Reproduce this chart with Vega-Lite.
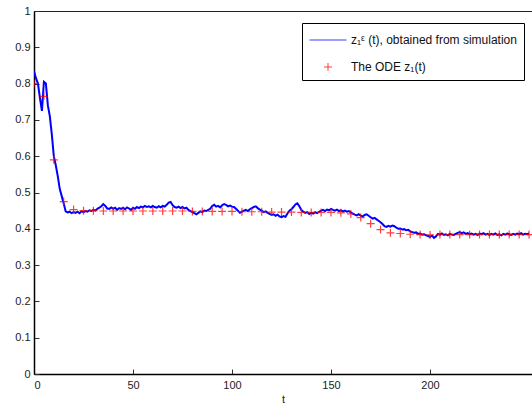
{
  "$schema": "https://vega.github.io/schema/vega-lite/v6.json",
  "width": 498,
  "height": 363,
  "autosize": "none",
  "padding": {"left": 34, "top": 11, "right": 0, "bottom": 35},
  "background": "white",
  "config": {
    "view": {"stroke": "#222", "strokeWidth": 1},
    "font": "Liberation Sans",
    "axis": {"labelFont": "Liberation Sans", "titleFont": "Liberation Sans", "labelColor": "#222", "titleColor": "#222", "labelFontSize": 11, "titleFontSize": 11, "titleFontWeight": "normal", "grid": false, "domainColor": "black", "tickColor": "#333", "labelOverlap": false}
  },
  "datasets": {
    "sim": [
      {"t":0,"z":0.835},{"t":1,"z":0.815},{"t":2,"z":0.8},{"t":3,"z":0.76},{"t":4,"z":0.725},{"t":5,"z":0.805},{"t":6,"z":0.8},{"t":7,"z":0.74},{"t":8,"z":0.71},{"t":9,"z":0.66},
      {"t":10,"z":0.6},{"t":11,"z":0.575},{"t":12,"z":0.545},{"t":13,"z":0.51},{"t":14,"z":0.49},{"t":15,"z":0.47},{"t":16,"z":0.448},{"t":17,"z":0.445},{"t":18,"z":0.447},{"t":19,"z":0.443},
      {"t":20,"z":0.446},{"t":21,"z":0.444},{"t":22,"z":0.447},{"t":23,"z":0.443},{"t":24,"z":0.448},{"t":25,"z":0.446},{"t":26,"z":0.449},{"t":27,"z":0.447},{"t":28,"z":0.451},{"t":29,"z":0.449},
      {"t":30,"z":0.452},{"t":31,"z":0.45},{"t":32,"z":0.455},{"t":33,"z":0.458},{"t":34,"z":0.462},{"t":35,"z":0.468},{"t":36,"z":0.463},{"t":37,"z":0.456},{"t":38,"z":0.455},{"t":39,"z":0.459},
      {"t":40,"z":0.455},{"t":41,"z":0.458},{"t":42,"z":0.452},{"t":43,"z":0.457},{"t":44,"z":0.455},{"t":45,"z":0.458},{"t":46,"z":0.454},{"t":47,"z":0.459},{"t":48,"z":0.456},{"t":49,"z":0.452},
      {"t":50,"z":0.458},{"t":51,"z":0.455},{"t":52,"z":0.46},{"t":53,"z":0.457},{"t":54,"z":0.461},{"t":55,"z":0.459},{"t":56,"z":0.463},{"t":57,"z":0.46},{"t":58,"z":0.462},{"t":59,"z":0.459},
      {"t":60,"z":0.463},{"t":61,"z":0.46},{"t":62,"z":0.458},{"t":63,"z":0.462},{"t":64,"z":0.459},{"t":65,"z":0.463},{"t":66,"z":0.461},{"t":67,"z":0.466},{"t":68,"z":0.472},{"t":69,"z":0.474},
      {"t":70,"z":0.465},{"t":71,"z":0.46},{"t":72,"z":0.458},{"t":73,"z":0.461},{"t":74,"z":0.457},{"t":75,"z":0.46},{"t":76,"z":0.456},{"t":77,"z":0.458},{"t":78,"z":0.452},{"t":79,"z":0.449},
      {"t":80,"z":0.446},{"t":81,"z":0.443},{"t":82,"z":0.44},{"t":83,"z":0.444},{"t":84,"z":0.448},{"t":85,"z":0.446},{"t":86,"z":0.45},{"t":87,"z":0.449},{"t":88,"z":0.452},{"t":89,"z":0.455},
      {"t":90,"z":0.463},{"t":91,"z":0.466},{"t":92,"z":0.461},{"t":93,"z":0.463},{"t":94,"z":0.459},{"t":95,"z":0.465},{"t":96,"z":0.468},{"t":97,"z":0.466},{"t":98,"z":0.462},{"t":99,"z":0.464},
      {"t":100,"z":0.461},{"t":101,"z":0.46},{"t":102,"z":0.455},{"t":103,"z":0.45},{"t":104,"z":0.444},{"t":105,"z":0.447},{"t":106,"z":0.45},{"t":107,"z":0.452},{"t":108,"z":0.449},{"t":109,"z":0.454},
      {"t":110,"z":0.457},{"t":111,"z":0.46},{"t":112,"z":0.462},{"t":113,"z":0.457},{"t":114,"z":0.453},{"t":115,"z":0.45},{"t":116,"z":0.446},{"t":117,"z":0.448},{"t":118,"z":0.444},{"t":119,"z":0.441},
      {"t":120,"z":0.438},{"t":121,"z":0.44},{"t":122,"z":0.436},{"t":123,"z":0.439},{"t":124,"z":0.434},{"t":125,"z":0.432},{"t":126,"z":0.435},{"t":127,"z":0.433},{"t":128,"z":0.442},{"t":129,"z":0.45},
      {"t":130,"z":0.454},{"t":131,"z":0.46},{"t":132,"z":0.467},{"t":133,"z":0.47},{"t":134,"z":0.462},{"t":135,"z":0.452},{"t":136,"z":0.447},{"t":137,"z":0.444},{"t":138,"z":0.446},{"t":139,"z":0.441},
      {"t":140,"z":0.444},{"t":141,"z":0.442},{"t":142,"z":0.446},{"t":143,"z":0.443},{"t":144,"z":0.447},{"t":145,"z":0.45},{"t":146,"z":0.452},{"t":147,"z":0.449},{"t":148,"z":0.453},{"t":149,"z":0.451},
      {"t":150,"z":0.455},{"t":151,"z":0.452},{"t":152,"z":0.45},{"t":153,"z":0.453},{"t":154,"z":0.449},{"t":155,"z":0.451},{"t":156,"z":0.448},{"t":157,"z":0.45},{"t":158,"z":0.447},{"t":159,"z":0.449},
      {"t":160,"z":0.445},{"t":161,"z":0.442},{"t":162,"z":0.439},{"t":163,"z":0.437},{"t":164,"z":0.44},{"t":165,"z":0.436},{"t":166,"z":0.434},{"t":167,"z":0.438},{"t":168,"z":0.44},{"t":169,"z":0.436},
      {"t":170,"z":0.432},{"t":171,"z":0.428},{"t":172,"z":0.43},{"t":173,"z":0.426},{"t":174,"z":0.422},{"t":175,"z":0.418},{"t":176,"z":0.413},{"t":177,"z":0.407},{"t":178,"z":0.405},{"t":179,"z":0.408},
      {"t":180,"z":0.406},{"t":181,"z":0.409},{"t":182,"z":0.407},{"t":183,"z":0.403},{"t":184,"z":0.4},{"t":185,"z":0.401},{"t":186,"z":0.398},{"t":187,"z":0.399},{"t":188,"z":0.396},{"t":189,"z":0.397},
      {"t":190,"z":0.393},{"t":191,"z":0.391},{"t":192,"z":0.389},{"t":193,"z":0.39},{"t":194,"z":0.386},{"t":195,"z":0.387},{"t":196,"z":0.384},{"t":197,"z":0.385},{"t":198,"z":0.382},{"t":199,"z":0.38},
      {"t":200,"z":0.378},{"t":201,"z":0.381},{"t":202,"z":0.375},{"t":203,"z":0.379},{"t":204,"z":0.386},{"t":205,"z":0.384},{"t":206,"z":0.387},{"t":207,"z":0.383},{"t":208,"z":0.385},{"t":209,"z":0.382},
      {"t":210,"z":0.386},{"t":211,"z":0.384},{"t":212,"z":0.383},{"t":213,"z":0.386},{"t":214,"z":0.389},{"t":215,"z":0.391},{"t":216,"z":0.388},{"t":217,"z":0.39},{"t":218,"z":0.386},{"t":219,"z":0.388},
      {"t":220,"z":0.385},{"t":221,"z":0.387},{"t":222,"z":0.384},{"t":223,"z":0.386},{"t":224,"z":0.383},{"t":225,"z":0.387},{"t":226,"z":0.385},{"t":227,"z":0.388},{"t":228,"z":0.384},{"t":229,"z":0.386},
      {"t":230,"z":0.383},{"t":231,"z":0.386},{"t":232,"z":0.384},{"t":233,"z":0.387},{"t":234,"z":0.383},{"t":235,"z":0.385},{"t":236,"z":0.382},{"t":237,"z":0.386},{"t":238,"z":0.384},{"t":239,"z":0.387},
      {"t":240,"z":0.385},{"t":241,"z":0.383},{"t":242,"z":0.386},{"t":243,"z":0.384},{"t":244,"z":0.387},{"t":245,"z":0.385},{"t":246,"z":0.388},{"t":247,"z":0.384},{"t":248,"z":0.386},{"t":249,"z":0.385},{"t":250,"z":0.387}
    ],
    "ode": [
      {"t":0,"z":0.8},{"t":5,"z":0.765},{"t":10,"z":0.59},{"t":15,"z":0.475},{"t":20,"z":0.453},{"t":25,"z":0.45},{"t":30,"z":0.45},{"t":35,"z":0.449},{"t":40,"z":0.449},{"t":45,"z":0.449},
      {"t":50,"z":0.449},{"t":55,"z":0.449},{"t":60,"z":0.449},{"t":65,"z":0.449},{"t":70,"z":0.449},{"t":75,"z":0.449},{"t":80,"z":0.448},{"t":85,"z":0.448},{"t":90,"z":0.448},{"t":95,"z":0.448},
      {"t":100,"z":0.448},{"t":105,"z":0.447},{"t":110,"z":0.447},{"t":115,"z":0.447},{"t":120,"z":0.446},{"t":125,"z":0.446},{"t":130,"z":0.446},{"t":135,"z":0.445},{"t":140,"z":0.445},{"t":145,"z":0.445},
      {"t":150,"z":0.445},{"t":155,"z":0.444},{"t":160,"z":0.441},{"t":165,"z":0.431},{"t":170,"z":0.414},{"t":175,"z":0.398},{"t":180,"z":0.389},{"t":185,"z":0.387},{"t":190,"z":0.385},{"t":195,"z":0.384},
      {"t":200,"z":0.383},{"t":205,"z":0.384},{"t":210,"z":0.384},{"t":215,"z":0.384},{"t":220,"z":0.384},{"t":225,"z":0.384},{"t":230,"z":0.384},{"t":235,"z":0.384},{"t":240,"z":0.384},{"t":245,"z":0.384},{"t":250,"z":0.384}
    ]
  },
  "encoding": {
    "x": {"field": "t", "type": "quantitative", "scale": {"domain": [0, 251.5], "nice": false, "zero": false},
      "axis": {"values": [0, 50, 100, 150, 200], "title": "t", "tickSize": -5, "labelPadding": 10, "titlePadding": 3, "domainWidth": 1.5, "labelOverlap": false}},
    "y": {"field": "z", "type": "quantitative", "scale": {"domain": [0, 1], "nice": false},
      "axis": {"values": [0, 0.1, 0.2, 0.3, 0.4, 0.5, 0.6, 0.7, 0.8, 0.9, 1], "labelExpr": "datum.value == 0 ? '0' : datum.value == 1 ? '1' : format(datum.value, '.1f')", "title": null, "tickSize": -5, "labelPadding": 9, "domainWidth": 1.5, "labelOverlap": false, "labelBound": false, "labelFlush": false}},
    "color": {"field": "series", "type": "nominal",
      "scale": {"domain": ["z₁ᵋ (t), obtained from simulation", "The ODE z₁(t)"], "range": ["#0000ff", "#ff0000"]},
      "legend": {"title": null, "orient": "none", "legendX": 268, "legendY": 12, "fillColor": "white", "strokeColor": "black", "padding": 7, "labelFontSize": 12, "labelLimit": 400, "labelFont": "Liberation Sans", "labelColor": "#111", "rowPadding": 15, "symbolOffset": 9, "labelOffset": 13, "symbolStrokeWidth": 1, "cornerRadius": 0}}
  },
  "layer": [
    {
      "data": {"name": "sim"},
      "transform": [{"calculate": "'z₁ᵋ (t), obtained from simulation'", "as": "series"}],
      "mark": {"type": "line", "strokeWidth": 2, "clip": true}
    },
    {
      "data": {"name": "ode"},
      "transform": [{"calculate": "'The ODE z₁(t)'", "as": "series"}],
      "mark": {"type": "point", "filled": false, "strokeWidth": 1.2, "opacity": 0.75, "clip": true},
      "encoding": {
        "shape": {"field": "series", "type": "nominal", "scale": {"domain": ["z₁ᵋ (t), obtained from simulation", "The ODE z₁(t)"], "range": ["M-2,0L2,0", "M-1,0L1,0M0,-1L0,1"]}},
        "size": {"field": "series", "type": "nominal", "scale": {"domain": ["z₁ᵋ (t), obtained from simulation", "The ODE z₁(t)"], "range": [342, 64]}}
      }
    }
  ]
}
